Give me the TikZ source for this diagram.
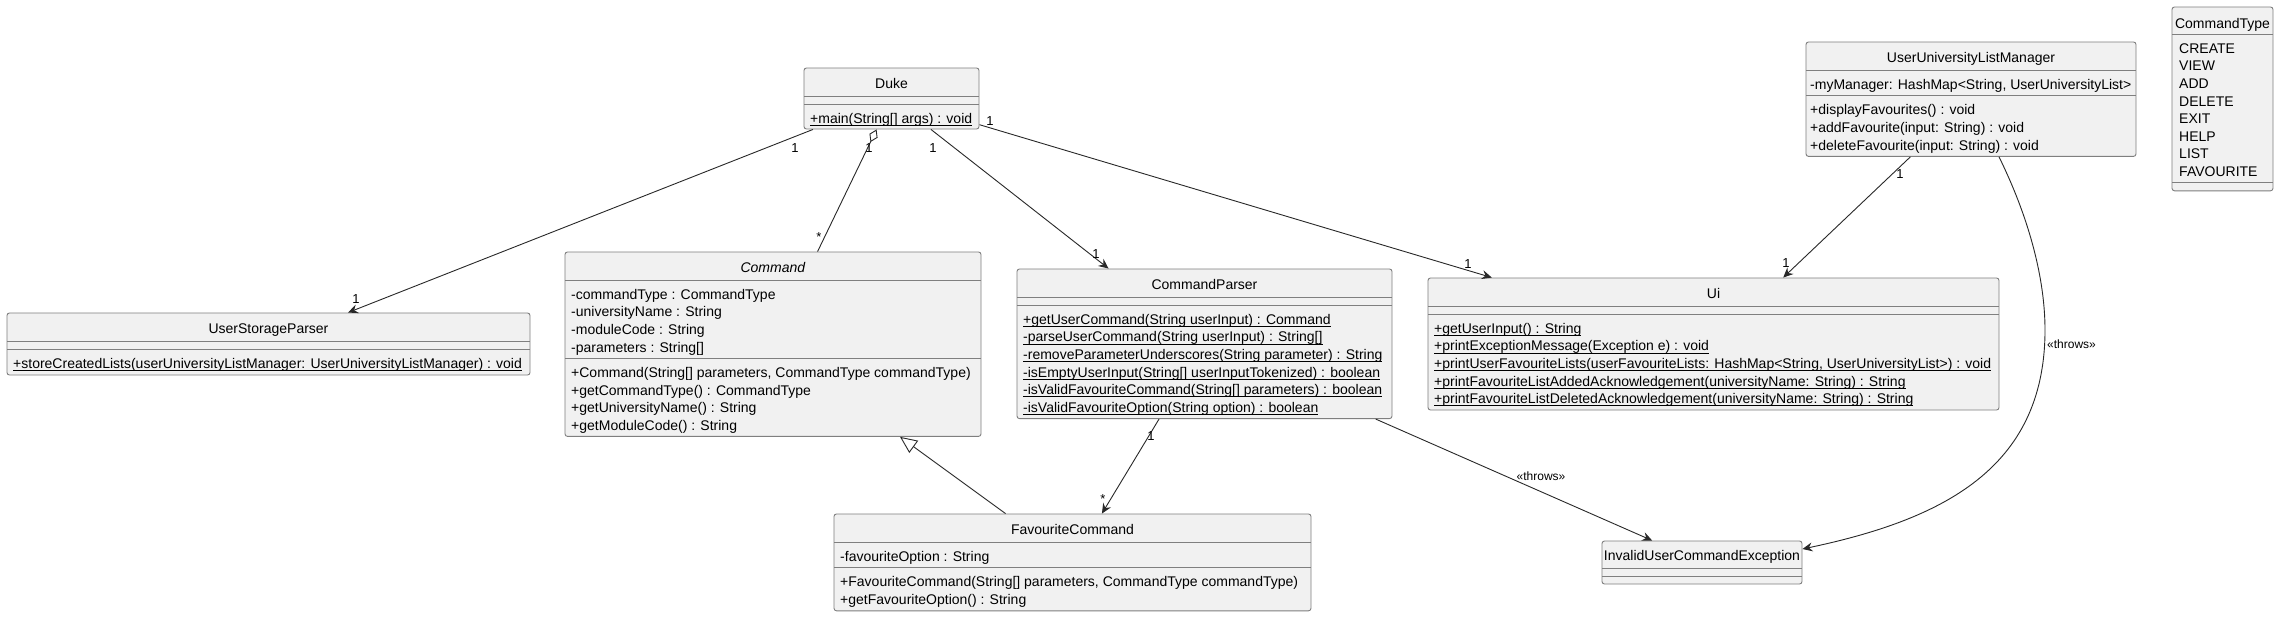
\documentclass[tikz,border=0pt]{standalone}
\usepackage{fontspec}
\setmainfont{Liberation Sans}
\usepackage{xcolor}
\usepackage{tikz}
\usetikzlibrary{arrows.meta}

\definecolor{classfill}{HTML}{F1F1F1}
\definecolor{classline}{HTML}{7F7F7F}
\definecolor{wireline}{HTML}{282828}

\newcommand{\ustatic}[1]{\leavevmode\setbox0\hbox{#1}\rlap{\rule[-2.6pt]{\wd0}{0.9pt}}\box0}

\begin{document}
\begin{tikzpicture}[
  x=1pt, y=-1pt,
  every node/.style={font=\fontsize{14}{17.6}\selectfont, inner sep=0pt},
  classbox/.style={rectangle, draw=classline, fill=classfill, rounded corners=2.5pt, line width=0.9pt},
  sepline/.style={draw=classline, line width=0.9pt},
  classname/.style={anchor=base},
  members/.style={anchor=north west, align=left},
  wire/.style={draw=wireline, line width=0.9pt},
  assoc/.style={wire, -{Stealth[length=10pt, width=9pt, inset=3.5pt]}},
  aggr/.style={wire, {Diamond[open, length=14pt, width=9pt]}-},
  inherit/.style={wire, -{Triangle[open, length=17pt, width=15pt]}},
  mult/.style={anchor=base, font=\fontsize{13}{15}\selectfont},
  stereo/.style={anchor=base, font=\fontsize{12}{14}\selectfont}
]

\path[use as bounding box, fill=white] (0,0) rectangle (2279,616);

% Duke
\node[classbox, minimum width=175pt, minimum height=61pt] (duke) at (891.5,98.5) {};
\draw[sepline] (804,96) -- (979,96);
\draw[sepline] (804,104) -- (979,104);
\node[classname] (dukename) at (891.5,88) {Duke};
\node[members] (dukeops) at (810,110.7) {\strut\ustatic{+main(String[] args) : void}};

% UserStorageParser
\node[classbox, minimum width=523pt, minimum height=62pt] (usp) at (268.5,344) {};
\draw[sepline] (7,341) -- (530,341);
\draw[sepline] (7,349) -- (530,349);
\node[classname] (uspname) at (268.5,333) {UserStorageParser};
\node[members] (uspops) at (13,355.7) {\strut\ustatic{+storeCreatedLists(userUniversityListManager: UserUniversityListManager) : void}};

% Command
\node[classbox, minimum width=416pt, minimum height=184.4pt] (cmd) at (773,344.2) {};
\draw[sepline] (565,280) -- (981,280);
\draw[sepline] (565,358.4) -- (981,358.4);
\node[classname] (cmdname) at (773,272) {\textit{Command}};
\node[members] (cmdattr) at (571,286.7) {\strut -commandType : CommandType\\-universityName : String\\-moduleCode : String\\-parameters : String[]};
\node[members] (cmdops) at (571,365.1) {\strut +Command(String[] parameters, CommandType commandType)\\+getCommandType() : CommandType\\+getUniversityName() : String\\+getModuleCode() : String};

% CommandParser
\node[classbox, minimum width=375pt, minimum height=149.6pt] (cp) at (1204.5,343.8) {};
\draw[sepline] (1017,297) -- (1392,297);
\draw[sepline] (1017,305) -- (1392,305);
\node[classname] (cpname) at (1204.5,289) {CommandParser};
\node[members] (cpops) at (1023,311.7) {\strut\ustatic{+getUserCommand(String userInput) : Command}\\
  \ustatic{-parseUserCommand(String userInput) : String[]}\\
  \ustatic{-removeParameterUnderscores(String parameter) : String}\\
  \ustatic{-isEmptyUserInput(String[] userInputTokenized) : boolean}\\
  \ustatic{-isValidFavouriteCommand(String[] parameters) : boolean}\\
  \ustatic{-isValidFavouriteOption(String option) : boolean}};

% Ui
\node[classbox, minimum width=571pt, minimum height=132pt] (ui) at (1713.5,344) {};
\draw[sepline] (1428,306) -- (1999,306);
\draw[sepline] (1428,314) -- (1999,314);
\node[classname] (uiname) at (1713.5,298) {Ui};
\node[members] (uiops) at (1434,320.7) {\strut\ustatic{+getUserInput() : String}\\
  \ustatic{+printExceptionMessage(Exception e) : void}\\
  \ustatic{+printUserFavouriteLists(userFavouriteLists: HashMap<String, UserUniversityList>) : void}\\
  \ustatic{+printFavouriteListAddedAcknowledgement(universityName: String) : String}\\
  \ustatic{+printFavouriteListDeletedAcknowledgement(universityName: String) : String}};

% UserUniversityListManager
\node[classbox, minimum width=330pt, minimum height=114.4pt] (uul) at (1971,99.2) {};
\draw[sepline] (1806,70) -- (2136,70);
\draw[sepline] (1806,95.6) -- (2136,95.6);
\node[classname] (uulname) at (1971,62) {UserUniversityListManager};
\node[members] (uulattr) at (1810,76.7) {\strut -myManager: HashMap<String, UserUniversityList>};
\node[members] (uulops) at (1810,102.3) {\strut +displayFavourites() : void\\+addFavourite(input: String) : void\\+deleteFavourite(input: String) : void};

% CommandType
\node[classbox, minimum width=101pt, minimum height=183.8pt] (ctype) at (2222.5,98.9) {};
\draw[sepline] (2172,34) -- (2273,34);
\draw[sepline] (2172,182.8) -- (2273,182.8);
\node[classname] (ctypename) at (2222.5,28) {CommandType};
\node[members] (ctypevals) at (2179,40.7) {\strut CREATE\\VIEW\\ADD\\DELETE\\EXIT\\HELP\\LIST\\FAVOURITE};

% FavouriteCommand
\node[classbox, minimum width=477pt, minimum height=96.8pt] (fav) at (1072.5,562.4) {};
\draw[sepline] (834,542) -- (1311,542);
\draw[sepline] (834,567.6) -- (1311,567.6);
\node[classname] (favname) at (1072.5,534) {FavouriteCommand};
\node[members] (favattr) at (840,548.7) {\strut -favouriteOption : String};
\node[members] (favops) at (840,574.3) {\strut +FavouriteCommand(String[] parameters, CommandType commandType)\\+getFavouriteOption() : String};

% InvalidUserCommandException
\node[classbox, minimum width=200pt, minimum height=43pt] (invalid) at (1702,562.5) {};
\draw[sepline] (1602,568) -- (1802,568);
\draw[sepline] (1602,576) -- (1802,576);
\node[classname] (invalidname) at (1702,560) {InvalidUserCommandException};

% Relations
\draw[assoc] (duke) -- (usp);
\draw[aggr] (duke) -- (cmd);
\draw[assoc] (duke) -- (cp);
\draw[assoc] (duke) -- (ui);
\draw[assoc] (uul) -- (ui);
\draw[assoc] (cp) -- (fav);
\draw[inherit] (fav) -- (cmd);
\draw[assoc] (cp) -- (invalid);
\draw[assoc] ([xshift=28pt]uul.south) .. controls (2030,220) and (2045,280) .. (2045,330)
  .. controls (2045,470) and (1940,520) .. ([yshift=13.5pt]invalid.east);

% Multiplicities
\node[mult] (mduke1) at (795,152) {1};
\node[mult] (musp) at (356,303) {1};
\node[mult] (mduke2) at (869,152) {1};
\node[mult] (mcmd) at (819,241) {*};
\node[mult] (mduke3) at (933,152) {1};
\node[mult] (mcp) at (1096,258) {1};
\node[mult] (mduke4) at (990,125) {1};
\node[mult] (mui1) at (1468,268) {1};
\node[mult] (muul) at (1900,178) {1};
\node[mult] (mui2) at (1786,267) {1};
\node[mult] (mcpfav) at (1151,440) {1};
\node[mult] (mfav) at (1103,503) {*};

% Stereotypes
\node[stereo] (throwscp) at (1541,480) {«throws»};
\node[stereo] (throwsuul) at (2071.5,348) {«throws»};

\end{tikzpicture}
\end{document}
